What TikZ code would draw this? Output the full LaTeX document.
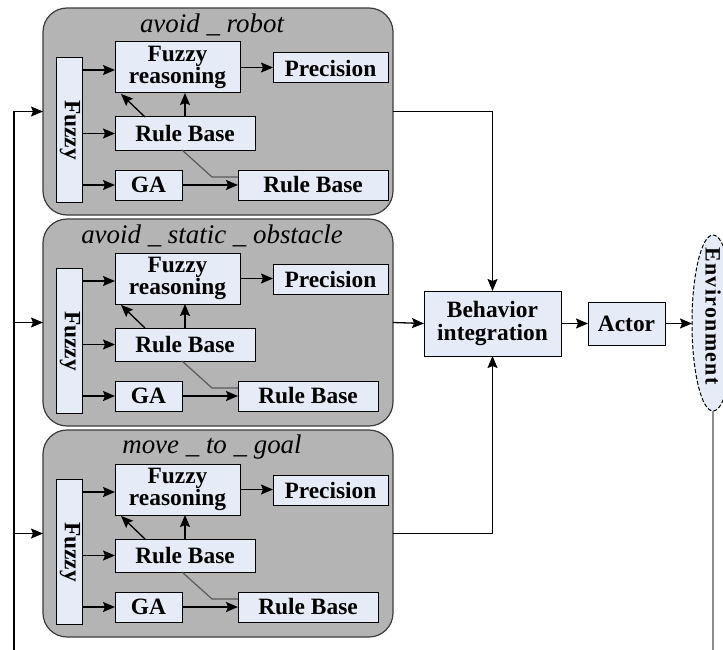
\documentclass[tikz,border=0pt]{standalone}
\usepackage{fontspec}
\setmainfont{Liberation Serif}
\usetikzlibrary{arrows.meta,calc,shapes.geometric}
\definecolor{panelgray}{RGB}{180,180,180}
\definecolor{paneledge}{RGB}{60,60,60}
\definecolor{boxfill}{RGB}{229,236,247}
\definecolor{wiregray}{RGB}{90,90,90}
\definecolor{tailgray}{RGB}{140,140,140}
\begin{document}
\begin{tikzpicture}[x=1bp,y=-1bp,
  every node/.style={inner sep=0pt, outer sep=0pt},
  panel/.style={draw=paneledge, line width=1.2bp, fill=panelgray, rounded corners=24bp,
    minimum width=350bp, minimum height=207bp},
  blk/.style={draw=black, line width=1bp, fill=boxfill, align=center,
    font=\fontsize{23.5}{21}\selectfont\bfseries},
  lbl/.style={font=\fontsize{23.5}{21}\selectfont\bfseries},
  ttl/.style={font=\fontsize{27}{27}\selectfont\itshape},
  arr/.style={line width=1.3bp, -{Stealth[length=12bp,width=10bp,inset=2bp]}},
  gwire/.style={line width=1.2bp, draw=wiregray}]
\useasboundingbox (0,0) rectangle (723,650);

% left feedback trunk
\coordinate (trunk) at (14,650);

% the three behaviour panels
\foreach \T/\p/\name/\rr in {8/a/{avoid \_ robot}/388,
                              219/b/{avoid \_ static \_ obstacle}/378,
                              430/c/{move \_ to \_ goal}/378}{
  \node[panel] (pan\p) at (218,\T+103.5) {};
  \node[ttl] (ttl\p) at (212,\T+17) {\name};
  \node[blk, minimum width=26bp, minimum height=145bp] (fz\p) at (69,\T+122) {};
  \node[lbl, rotate=-90] (fzt\p) at (70,\T+122) {Fuzzy};
  \node[blk, minimum width=125bp, minimum height=51bp] (fr\p) at (177.5,\T+59.5) {Fuzzy\\reasoning};
  \node[blk, minimum width=115bp, minimum height=30bp] (pr\p) at (330.5,\T+60) {Precision};
  \node[blk, minimum width=140bp, minimum height=33bp] (rb\p) at (185,\T+125.5) {Rule Base};
  \node[blk, minimum width=67bp, minimum height=30bp] (ga\p) at (148.5,\T+177) {GA};
  \node[blk, minimum width={(\rr-238)*1bp}, minimum height=30bp] (rbb\p)
       at ({(238+\rr)/2},{\T+177}) {Rule Base};
  % connectors inside the panel
  \draw[arr] (fr\p.west -| fz\p.east) ++(0,2.5) -- ($(fr\p.west)+(0,2.5)$);
  \draw[arr] (rb\p.west -| fz\p.east) -- (rb\p.west);
  \draw[arr] (ga\p.west -| fz\p.east) -- (ga\p.west);
  \draw[arr] (fr\p.east) -- (fr\p.east -| pr\p.west);
  \draw[arr] (rb\p.north) -- (rb\p.north |- fr\p.south);
  \draw[arr] ($(rb\p.north west)+(30,0)$) -- ($(fr\p.south west)+(6,1)$);
  \draw[arr] (ga\p.east) -- (ga\p.east -| rbb\p.west);
  \draw[gwire] ($(rb\p.south)+(-3,0)$) -- ($(rbb\p.west)+(-26,-8)$) -- ($(rbb\p.west)+(0,-8)$);
}

% integration chain
\node[blk, minimum width=137bp, minimum height=65bp, font=\fontsize{23.5}{23}\selectfont\bfseries]
      (bi) at (492.5,323.5) {Behavior\\integration};
\node[blk, minimum width=77bp, minimum height=43bp] (act) at (626.5,323.5) {Actor};
\node[ellipse, draw=black, dashed, dash pattern=on 4bp off 2bp, line width=1bp, fill=boxfill,
      minimum width=42bp, minimum height=176bp] (env) at (713,323) {};
\node[rotate=-90, font=\fontsize{22}{22}\selectfont\bfseries] (envt) at (713,316)
      {\addfontfeature{LetterSpace=6}Environment};
\coordinate (envend) at (713,650);

% feedback into the panels
\draw[arr] (trunk) |- (pana.west);
\draw[arr] (panb.west -| trunk) -- (panb.west);
\draw[arr] (panc.west -| trunk) -- (panc.west);

% panels into the integration block
\draw[arr] (pana.east) -| (bi.north);
\draw[arr] (panb.east) -- (bi.west);
\draw[arr] (panc.east) -| (bi.south);
\draw[arr] (bi.east) -- (act.west);
\draw[arr] (act.east) -- (act.east -| env.west);
\draw[line width=1.2bp, draw=tailgray] (env.south) -- (envend);
\end{tikzpicture}
\end{document}
